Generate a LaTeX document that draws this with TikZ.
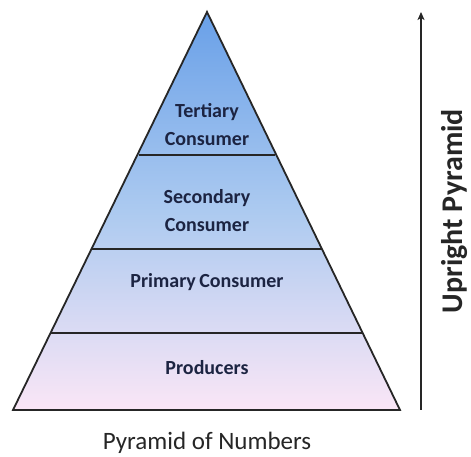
\documentclass[tikz,border=0pt]{standalone}
\usepackage{fontspec}
\setmainfont{Carlito}
\usetikzlibrary{arrows.meta}
\definecolor{topblue}{RGB}{105,160,232}
\definecolor{midblue}{RGB}{172,202,240}
\definecolor{botpink}{RGB}{250,230,246}
\definecolor{labelnavy}{RGB}{28,36,66}
\tikzset{
  edge/.style={line width=1.8pt, black!85},
  level/.style={font=\fontsize{20}{28}\selectfont\bfseries, text=labelnavy, align=center, inner sep=0pt},
  caption/.style={font=\fontsize{25}{28}\selectfont, text=black!85, inner sep=0pt},
  sidecap/.style={font=\fontsize{30}{32}\selectfont\bfseries, text=black!85, inner sep=0pt, rotate=90, anchor=base}
}
\begin{document}
\begin{tikzpicture}[x=1pt,y=1pt]
\useasboundingbox (0,0) rectangle (471,457);
\fill[white] (0,0) rectangle (471,457);
% pyramid corners
\coordinate (apex) at (207,445);
\coordinate (bl) at (13,47);
\coordinate (br) at (400,47);
% fill
\shade[top color=topblue, bottom color=botpink, middle color=midblue] (apex) -- (br) -- (bl) -- cycle;
% divider ends
\coordinate (d1l) at (139,302); \coordinate (d1r) at (275,302);
\coordinate (d2l) at (92,208);  \coordinate (d2r) at (322,208);
\coordinate (d3l) at (51,124);  \coordinate (d3r) at (363,124);
\draw[edge] (d1l) -- (d1r);
\draw[edge] (d2l) -- (d2r);
\draw[edge] (d3l) -- (d3r);
\draw[edge, line join=miter] (apex) -- (br) -- (bl) -- cycle;
% labels
\node[level] (tert) at (207,332) {Tertiary\\Consumer};
\node[level] (sec) at (207,246) {Secondary\\Consumer};
\node[level] (prim) at (207,175) {Primary\,Consumer};
\node[level] (prod) at (207,89) {Producers};
\node[caption] (cap) at (207,14) {Pyramid of Numbers};
% arrow
\coordinate (abot) at (421,47);
\coordinate (atop) at (421,445);
\draw[line width=1.4pt, black!85, -{Stealth[length=8pt,width=7pt,inset=2pt]}] (abot) -- (atop);
\node[sidecap] (side) at (462,246) {Upright Pyramid};
\end{tikzpicture}
\end{document}
